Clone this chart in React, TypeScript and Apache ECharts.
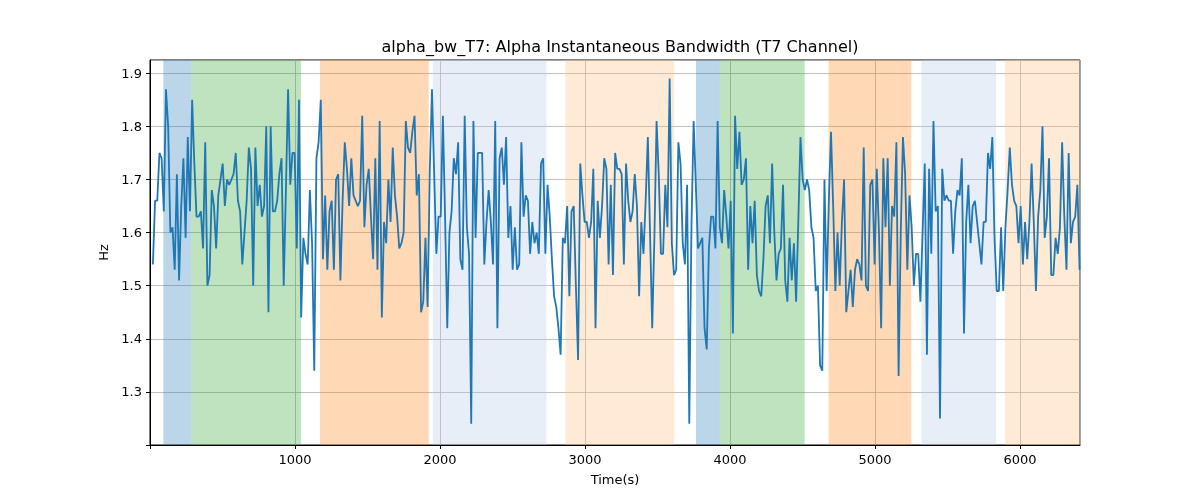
import { useEffect, useRef } from 'react';
import * as echarts from 'echarts';

// values, in time order
const seg1 = [1.54, 1.66, 1.66, 1.75, 1.74, 1.64, 1.87, 1.8, 1.6, 1.61, 1.53, 1.71, 1.51, 1.65, 1.74, 1.59, 1.78, 1.64, 1.85, 1.73,
  1.63, 1.63, 1.64, 1.57, 1.77, 1.5, 1.52, 1.68, 1.65, 1.57, 1.67, 1.7, 1.73, 1.65, 1.7, 1.69, 1.7, 1.71, 1.75, 1.66,
  1.64, 1.54, 1.6, 1.66, 1.76, 1.72, 1.5, 1.76, 1.65, 1.69, 1.63, 1.65, 1.8, 1.45, 1.8, 1.64, 1.64, 1.66, 1.71, 1.74,
  1.5, 1.68, 1.87, 1.69, 1.75, 1.75, 1.57, 1.85, 1.44, 1.59, 1.56];
const seg2 = [1.54, 1.68, 1.58, 1.34, 1.74, 1.77, 1.85, 1.55, 1.67, 1.53, 1.64, 1.66, 1.53, 1.7, 1.71, 1.51, 1.66, 1.77, 1.72, 1.65,
  1.74, 1.67, 1.66, 1.65, 1.66, 1.82, 1.61, 1.69, 1.72, 1.63, 1.55, 1.74, 1.53, 1.81, 1.44, 1.62, 1.58, 1.7, 1.62, 1.76,
  1.67, 1.63, 1.57, 1.58, 1.6, 1.81, 1.76, 1.75, 1.79, 1.82, 1.67, 1.71, 1.45, 1.47, 1.59, 1.46, 1.72, 1.87, 1.71, 1.56,
  1.63, 1.63, 1.82, 1.63, 1.42, 1.6, 1.64, 1.74, 1.71, 1.77];
const seg3 = [1.55, 1.53, 1.82, 1.61, 1.56, 1.24, 1.81, 1.59, 1.75, 1.75, 1.75, 1.54, 1.62, 1.68, 1.62, 1.54, 1.81, 1.42, 1.74, 1.76,
  1.69, 1.78, 1.59, 1.65, 1.53, 1.61, 1.53, 1.54, 1.77, 1.63, 1.67, 1.66, 1.56, 1.62, 1.58, 1.6, 1.56, 1.73, 1.74, 1.56,
  1.69, 1.63, 1.55, 1.48, 1.46, 1.42, 1.37, 1.59, 1.58, 1.65, 1.48, 1.64, 1.65, 1.5, 1.36, 1.73, 1.67, 1.62, 1.62, 1.59,
  1.62, 1.72, 1.42, 1.66, 1.59, 1.65, 1.74, 1.72, 1.54];
const seg4 = [1.69, 1.52, 1.75, 1.72, 1.72, 1.71, 1.54, 1.73, 1.66, 1.62, 1.64, 1.71, 1.65, 1.48, 1.62, 1.56, 1.66, 1.78, 1.6, 1.42,
  1.59, 1.81, 1.71, 1.56, 1.56, 1.69, 1.61, 1.89, 1.58, 1.52, 1.53, 1.77, 1.73, 1.58, 1.54, 1.69, 1.24, 1.61, 1.81, 1.69,
  1.57, 1.58, 1.59, 1.42, 1.38, 1.57, 1.63, 1.63, 1.57, 1.81, 1.61, 1.58, 1.68, 1.63, 1.57, 1.66, 1.41, 1.82, 1.72, 1.79,
  1.69, 1.7, 1.74, 1.53, 1.65, 1.58, 1.66, 1.52];
const seg5 = [1.49, 1.48, 1.55, 1.65, 1.67, 1.58, 1.73, 1.6, 1.51, 1.56, 1.57, 1.69, 1.51, 1.47, 1.59, 1.51, 1.58, 1.47, 1.62, 1.78,
  1.7, 1.68, 1.7, 1.68, 1.61, 1.59, 1.49, 1.5, 1.35, 1.34, 1.7, 1.49, 1.66, 1.79, 1.65, 1.49, 1.6, 1.5, 1.62, 1.7,
  1.45, 1.49, 1.53, 1.46, 1.53, 1.55, 1.54, 1.51, 1.76, 1.5, 1.49, 1.69, 1.7, 1.54, 1.72, 1.6, 1.42, 1.74, 1.61, 1.74,
  1.5, 1.65, 1.63, 1.77, 1.33, 1.6, 1.78, 1.71, 1.53, 1.67, 1.61, 1.5, 1.56, 1.56, 1.47];
const seg6 = [1.6, 1.73, 1.37, 1.72, 1.56, 1.81, 1.64, 1.65, 1.25, 1.72, 1.66, 1.67, 1.66, 1.66, 1.56, 1.64, 1.68, 1.67, 1.74, 1.41,
  1.62, 1.69, 1.58, 1.65, 1.66, 1.62, 1.58, 1.54, 1.62, 1.62, 1.75, 1.72, 1.78, 1.59, 1.49, 1.49, 1.61, 1.49, 1.61, 1.68,
  1.76, 1.69, 1.66, 1.65, 1.58, 1.65, 1.54, 1.62, 1.55, 1.62, 1.73, 1.62, 1.49, 1.63, 1.68, 1.8, 1.59, 1.63, 1.74, 1.52,
  1.52, 1.59, 1.56, 1.61, 1.77, 1.63, 1.53, 1.75, 1.58, 1.62, 1.63, 1.69, 1.53];
const bandwidth = [...seg1, ...seg2, ...seg3, ...seg4, ...seg5, ...seg6];

const tStart = 20;
const tEnd = 6410;

// [start, end, colour] of the shaded phases
const phases: [number, number, string][] = [
  [92, 285, 'rgba(31,119,180,0.3)'],
  [285, 1041, 'rgba(44,160,44,0.3)'],
  [1172, 1922, 'rgba(255,127,14,0.3)'],
  [1950, 2734, 'rgba(174,199,232,0.3)'],
  [2865, 3614, 'rgba(255,187,120,0.3)'],
  [3765, 3930, 'rgba(31,119,180,0.3)'],
  [3930, 4514, 'rgba(44,160,44,0.3)'],
  [4679, 5250, 'rgba(255,127,14,0.3)'],
  [5319, 5835, 'rgba(174,199,232,0.3)'],
  [5897, 6413, 'rgba(255,187,120,0.3)'],
];

export default function App() {
  const chartRef = useRef<HTMLDivElement>(null);

  useEffect(() => {
    if (!chartRef.current) return;
    const chart = echarts.init(chartRef.current, null, { renderer: 'svg' });
    const step = (tEnd - tStart) / (bandwidth.length - 1);
    const font = 'DejaVu Sans';

    chart.setOption({
      animation: false,
      textStyle: { fontFamily: font },
      title: {
        text: 'alpha_bw_T7: Alpha Instantaneous Bandwidth (T7 Channel)',
        left: 615,
        textAlign: 'center',
        top: 33,
        textStyle: { fontFamily: font, fontSize: 16, fontWeight: 'normal', color: '#000' },
      },
      grid: { left: 150, right: 120, top: 60, bottom: 55, show: true, borderColor: '#000', borderWidth: 1, backgroundColor: 'transparent' },
      xAxis: {
        type: 'value',
        min: 0,
        max: 6413,
        interval: 1000,
        name: 'Time(s)',
        nameLocation: 'middle',
        nameGap: 28,
        nameTextStyle: { fontFamily: font, fontSize: 13, color: '#000' },
        axisLine: { show: true, lineStyle: { color: '#000' } },
        axisTick: { show: true, length: 4, lineStyle: { color: '#000' } },
        axisLabel: { fontFamily: font, fontSize: 13, color: '#000', showMaxLabel: false, formatter: (v: number) => (v === 0 ? '' : String(v)) },
        splitLine: { show: true, lineStyle: { color: '#b0b0b0', width: 0.8 } },
      },
      yAxis: {
        type: 'value',
        min: 1.2,
        max: 1.925,
        interval: 0.1,
        name: 'Hz',
        nameLocation: 'middle',
        nameGap: 40,
        nameTextStyle: { fontFamily: font, fontSize: 13, color: '#000' },
        axisLine: { show: true, lineStyle: { color: '#000' } },
        axisTick: { show: true, length: 4, lineStyle: { color: '#000' } },
        axisLabel: { fontFamily: font, fontSize: 13, color: '#000', showMaxLabel: false, formatter: (v: number) => (v < 1.25 ? '' : v.toFixed(1)) },
        splitLine: { show: true, lineStyle: { color: '#b0b0b0', width: 0.8 } },
      },
      series: [
        {
          type: 'line',
          data: bandwidth.map((v, i) => [tStart + i * step, v]),
          showSymbol: false,
          lineStyle: { color: '#1f77b4', width: 1.8 },
          z: 3,
          markArea: {
            silent: true,
            data: phases.map(([a, b, c]) => [{ xAxis: a, itemStyle: { color: c } }, { xAxis: b }]),
          },
        },
      ],
    });

    return () => chart.dispose();
  }, []);

  return <div ref={chartRef} style={{ position: 'fixed', left: 0, top: 0, width: 1200, height: 500 }} />;
}
